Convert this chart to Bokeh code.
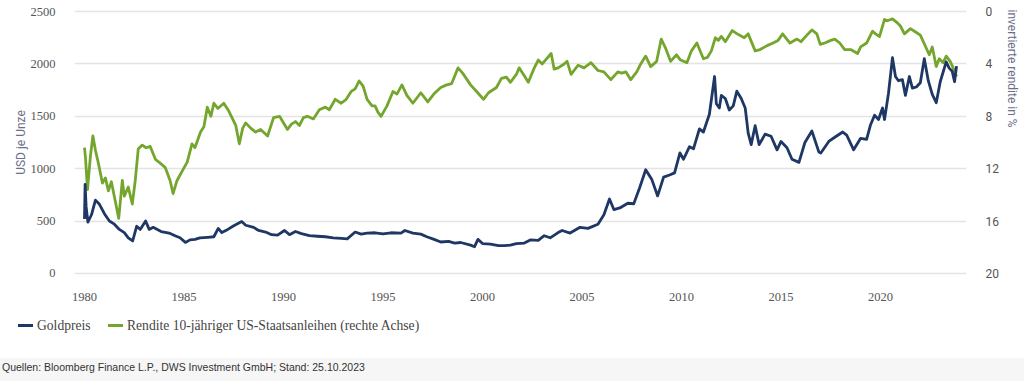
from bokeh.plotting import figure
from bokeh.models import (Range1d, LinearAxis, FixedTicker, Title, Div, ColumnDataSource)
from bokeh.layouts import column
from bokeh.embed import file_html
from bokeh.resources import INLINE

# ---------------- data ----------------
gold_year = [1980.00, 1980.03, 1980.08, 1980.17, 1980.35, 1980.55, 1980.75, 1981.00, 1981.25,
             1981.50, 1981.75, 1982.00, 1982.20, 1982.42, 1982.62, 1982.80, 1983.07, 1983.25,
             1983.45, 1983.85, 1984.25, 1984.55, 1984.80, 1985.07, 1985.30, 1985.55, 1985.80,
             1986.20, 1986.50, 1986.72, 1986.90, 1987.20, 1987.50, 1987.90, 1988.10, 1988.50,
             1988.75, 1989.10, 1989.40, 1989.70, 1990.05, 1990.30, 1990.60, 1990.90, 1991.30,
             1991.70, 1992.10, 1992.50, 1992.90, 1993.20, 1993.60, 1993.90, 1994.20, 1994.60,
             1995.00, 1995.40, 1995.90, 1996.10, 1996.50, 1996.90, 1997.20, 1997.60, 1997.90,
             1998.30, 1998.60, 1998.90, 1999.40, 1999.60, 1999.77, 2000.00, 2000.40, 2000.80,
             2001.10, 2001.40, 2001.70, 2002.10, 2002.40, 2002.80, 2003.10, 2003.40, 2003.80,
             2004.00, 2004.40, 2004.90, 2005.30, 2005.80, 2006.10, 2006.38, 2006.60, 2006.90,
             2007.30, 2007.60, 2007.90, 2008.20, 2008.50, 2008.80, 2009.10, 2009.40, 2009.65,
             2009.92, 2010.10, 2010.40, 2010.60, 2010.90, 2011.10, 2011.40, 2011.66, 2011.75,
             2011.90, 2012.00, 2012.20, 2012.40, 2012.60, 2012.78, 2013.00, 2013.20, 2013.35,
             2013.50, 2013.70, 2013.90, 2014.20, 2014.50, 2014.80, 2015.00, 2015.30, 2015.55,
             2015.90, 2016.20, 2016.55, 2016.90, 2017.00, 2017.40, 2017.70, 2018.10, 2018.30,
             2018.65, 2019.00, 2019.30, 2019.50, 2019.70, 2019.90, 2020.10, 2020.20, 2020.40,
             2020.60, 2020.75, 2020.90, 2021.10, 2021.25, 2021.45, 2021.60, 2021.80, 2022.00,
             2022.20, 2022.40, 2022.60, 2022.80, 2023.00, 2023.30, 2023.45, 2023.60, 2023.72,
             2023.82]
gold_usd = [520, 850, 640, 490, 560, 700, 660, 570, 500,
            470, 420, 390, 340, 310, 450, 420, 500, 420,
            440, 400, 385, 360, 340, 296, 320, 325, 340,
            345, 350, 430, 390, 420, 455, 495, 460, 440,
            410, 395, 370, 365, 410, 370, 400, 380, 360,
            355, 350, 340, 335, 330, 395, 375, 385, 388,
            378, 388, 385, 410, 385, 375, 350, 322, 300,
            305, 290, 295, 270, 255, 325, 285, 280, 265,
            265, 270, 285, 290, 320, 315, 360, 340, 390,
            410, 385, 440, 430, 470, 560, 710, 610, 625,
            670, 665, 820, 990, 900, 740, 920, 940, 960,
            1150, 1090, 1210, 1190, 1380, 1350, 1520, 1880, 1620,
            1580, 1700, 1670, 1560, 1600, 1740, 1670, 1580, 1340,
            1230, 1410, 1230, 1330, 1310, 1180, 1260, 1200, 1090,
            1060, 1250, 1360, 1160, 1150, 1260, 1300, 1350, 1320,
            1180, 1290, 1280, 1420, 1510, 1470, 1580, 1470, 1720,
            2060, 1880, 1840, 1850, 1700, 1880, 1770, 1780, 1820,
            2050, 1840, 1710, 1630, 1830, 2020, 1960, 1930, 1830,
            1980]

yield_year = [1980.00, 1980.05, 1980.15, 1980.30, 1980.42, 1980.55, 1980.70, 1980.90, 1981.05,
              1981.20, 1981.35, 1981.55, 1981.72, 1981.90, 1982.00, 1982.20, 1982.40, 1982.55,
              1982.70, 1982.90, 1983.10, 1983.30, 1983.57, 1983.82, 1984.05, 1984.30, 1984.45,
              1984.65, 1984.90, 1985.16, 1985.40, 1985.55, 1985.83, 1986.00, 1986.17, 1986.35,
              1986.50, 1986.70, 1987.00, 1987.25, 1987.60, 1987.78, 1987.95, 1988.10, 1988.35,
              1988.60, 1988.85, 1989.20, 1989.50, 1989.80, 1990.20, 1990.40, 1990.60, 1990.80,
              1991.00, 1991.20, 1991.50, 1991.80, 1992.10, 1992.30, 1992.60, 1992.90, 1993.15,
              1993.40, 1993.60, 1993.80, 1994.00, 1994.20, 1994.45, 1994.60, 1994.75, 1994.90,
              1995.20, 1995.50, 1995.70, 1995.95, 1996.20, 1996.50, 1996.90, 1997.25, 1997.55,
              1997.90, 1998.20, 1998.45, 1998.77, 1999.00, 1999.40, 1999.70, 2000.05, 2000.30,
              2000.70, 2000.95, 2001.20, 2001.40, 2001.70, 2001.84, 2002.10, 2002.30, 2002.60,
              2002.80, 2003.00, 2003.45, 2003.60, 2003.80, 2004.10, 2004.25, 2004.45, 2004.80,
              2005.10, 2005.45, 2005.80, 2006.10, 2006.45, 2006.80, 2007.00, 2007.20, 2007.45,
              2007.75, 2007.95, 2008.20, 2008.45, 2008.75, 2008.98, 2009.20, 2009.45, 2009.75,
              2009.95, 2010.27, 2010.50, 2010.77, 2011.10, 2011.30, 2011.50, 2011.70, 2011.85,
              2012.00, 2012.20, 2012.55, 2012.80, 2013.15, 2013.35, 2013.70, 2013.95, 2014.30,
              2014.60, 2014.85, 2015.08, 2015.45, 2015.80, 2016.00, 2016.30, 2016.55, 2016.80,
              2016.97, 2017.20, 2017.50, 2017.70, 2017.95, 2018.20, 2018.50, 2018.85, 2019.00,
              2019.30, 2019.60, 2019.75, 2019.95, 2020.20, 2020.35, 2020.60, 2020.80, 2021.00,
              2021.20, 2021.50, 2021.80, 2022.00, 2022.30, 2022.45, 2022.60, 2022.80, 2022.95,
              2023.15, 2023.30, 2023.50, 2023.65, 2023.82]
yield_pct = [10.4, 11.2, 13.6, 11.0, 9.5, 10.6, 11.6, 13.1, 12.7,
             13.7, 13.0, 14.5, 15.8, 12.9, 14.1, 13.4, 14.7, 12.9,
             10.5, 10.2, 10.4, 10.3, 11.3, 11.6, 11.9, 12.9, 13.9,
             12.9, 12.2, 11.5, 10.1, 10.4, 9.2, 8.8, 7.3, 8.0,
             7.0, 7.4, 7.0, 7.6, 8.7, 10.1, 8.9, 8.5, 8.9,
             9.2, 9.0, 9.5, 8.1, 8.0, 9.0, 8.6, 8.4, 8.7,
             8.1, 8.0, 8.2, 7.5, 7.3, 7.5, 6.7, 7.0, 6.7,
             6.1, 5.9, 5.3, 5.7, 6.7, 7.2, 7.2, 7.7, 8.0,
             7.2, 6.1, 6.3, 5.6, 6.4, 7.0, 6.2, 6.9, 6.3,
             5.8, 5.6, 5.5, 4.3, 4.7, 5.6, 6.1, 6.7, 6.2,
             5.8, 5.1, 5.0, 5.4, 4.8, 4.3, 4.9, 5.4, 4.3,
             3.7, 4.0, 3.2, 4.4, 4.3, 4.0, 3.8, 4.8, 4.1,
             4.3, 3.9, 4.5, 4.6, 5.2, 4.6, 4.7, 4.6, 5.2,
             4.6, 4.0, 3.4, 4.2, 3.8, 2.1, 2.8, 3.8, 3.3,
             3.7, 3.9, 3.0, 2.4, 3.6, 3.5, 3.0, 2.0, 2.2,
             1.9, 2.3, 1.45, 1.7, 2.0, 1.7, 3.0, 2.9, 2.6,
             2.4, 2.2, 1.7, 2.4, 2.1, 2.3, 1.8, 1.4, 1.7,
             2.5, 2.4, 2.2, 2.1, 2.4, 2.9, 2.9, 3.2, 2.7,
             2.4, 1.5, 1.7, 1.9, 0.6, 0.7, 0.55, 0.8, 1.1,
             1.7, 1.3, 1.6, 1.8, 2.8, 3.3, 2.7, 4.2, 3.6,
             3.9, 3.4, 3.8, 4.3, 4.95]

x_ticks = [1980, 1985, 1990, 1995, 2000, 2005, 2010, 2015, 2020]
left_ticks = [0, 500, 1000, 1500, 2000, 2500]
right_ticks = [0, 4, 8, 12, 16, 20]

gold_label = "Goldpreis"
yield_label = "Rendite 10-jähriger US-Staatsanleihen (rechte Achse)"
left_title = "USD je Unze"
right_title = "invertierte rendite in %"
source_text = "Quellen: Bloomberg Finance L.P., DWS Investment GmbH; Stand: 25.10.2023"

NAVY = "#1e3764"
GREEN = "#74a62e"
TICK_COL = "#555555"
TITLE_COL = "#6e6e8a"
W = 1024

# ---------------- main figure ----------------
p = figure(width=W, height=306, output_backend="svg", toolbar_location=None,
           x_range=Range1d(1979.497, 2024.32), y_range=Range1d(-20, 2520),
           min_border_left=74, min_border_right=58, min_border_top=9, min_border_bottom=31)
p.extra_y_ranges = {"y2": Range1d(start=20.16, end=-0.16)}
p.outline_line_color = None
p.background_fill_color = "white"
p.border_fill_color = "white"

p.xgrid.visible = False
p.ygrid.ticker = FixedTicker(ticks=left_ticks)
p.ygrid.grid_line_color = "#e4e4e4"
p.ygrid.grid_line_width = 1.5

xa = p.xaxis[0]
xa.ticker = FixedTicker(ticks=x_ticks)
xa.axis_line_color = None
xa.major_tick_line_color = None
xa.minor_tick_line_color = None
xa.major_label_standoff = 11
xa.major_label_text_font = "Liberation Serif"
xa.major_label_text_font_size = "12.5px"
xa.major_label_text_color = TICK_COL

ya = p.yaxis[0]
ya.ticker = FixedTicker(ticks=left_ticks)
ya.axis_line_color = None
ya.major_tick_line_color = None
ya.minor_tick_line_color = None
ya.major_label_standoff = 13
ya.major_label_text_font = "Liberation Serif"
ya.major_label_text_font_size = "12.5px"
ya.major_label_text_color = TICK_COL
ya.axis_label = left_title
ya.axis_label_text_font = "Roboto"
ya.axis_label_text_font_style = "normal"
ya.axis_label_text_font_size = "12px"
ya.axis_label_text_color = TITLE_COL
ya.axis_label_standoff = 0

ra = LinearAxis(y_range_name="y2", ticker=FixedTicker(ticks=right_ticks))
ra.axis_line_color = None
ra.major_tick_line_color = None
ra.minor_tick_line_color = None
ra.major_label_standoff = 13
ra.major_label_text_font = "Roboto"
ra.major_label_text_font_size = "12px"
ra.major_label_text_color = TICK_COL
p.add_layout(ra, "right")

p.add_layout(Title(text=right_title, align="left", text_font="Roboto",
                   text_font_size="12px", text_font_style="normal",
                   text_color=TITLE_COL, standoff=6), "right")

src_y = ColumnDataSource(dict(x=yield_year, y=yield_pct))
src_g = ColumnDataSource(dict(x=gold_year, y=gold_usd))
p.line("x", "y", source=src_y, y_range_name="y2", line_color=GREEN, line_width=2.8,
       line_join="round")
p.line("x", "y", source=src_g, line_color=NAVY, line_width=2.8, line_join="round")

# ---------------- legend strip (HTML) ----------------
def swatch(left, color):
    return (f'<span style="position:absolute;left:{left}px;top:18px;width:15px;height:3px;'
            f'background:{color};"></span>')

def legend_text(left, text):
    return (f'<span style="position:absolute;left:{left}px;top:11px;line-height:18px;'
            f'white-space:nowrap;">{text}</span>')

legend_html = ('<div style="position:relative;width:1024px;height:52px;">'
               + swatch(18, NAVY) + legend_text(37, gold_label)
               + swatch(108, GREEN) + legend_text(127, yield_label)
               + '</div>')
legend_div = Div(text=legend_html, width=W, height=52,
                 styles={"font-family": "Liberation Serif", "font-size": "13.6px",
                         "color": "#444444", "margin": "0", "padding": "0"})

src_html = ('<div style="position:relative;width:1024px;height:23px;">'
            '<span style="position:absolute;left:2px;top:2px;line-height:14px;'
            f'white-space:nowrap;">{source_text}</span></div>')
src_div = Div(text=src_html, width=W, height=23,
              styles={"background-color": "#f6f6f6", "font-family": "Liberation Sans",
                      "font-size": "10.5px", "color": "#333333", "margin": "0",
                      "padding": "0"})

layout = column(p, legend_div, src_div, spacing=0)
open("out.html", "w").write(file_html(layout, INLINE))
